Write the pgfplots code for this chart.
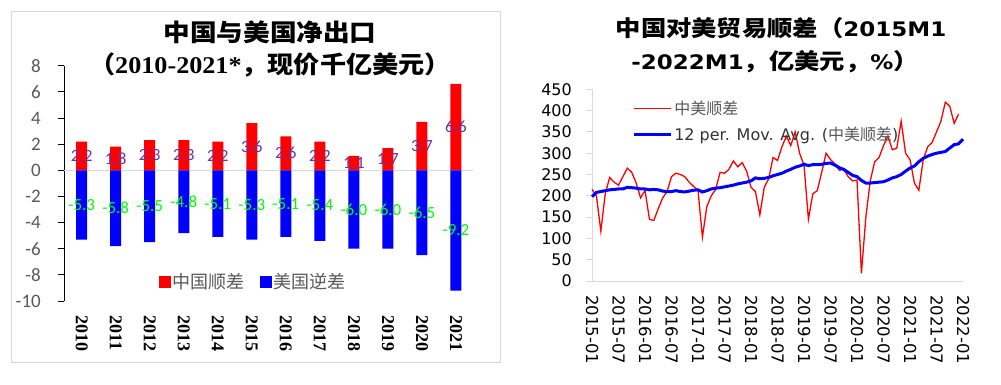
\documentclass[border=0pt]{standalone}
\usepackage{pgfplots}
\pgfplotsset{compat=1.18}
\usepackage{pgfplotstable}
\usepackage{fontspec}
\usepackage{graphicx}
\setmainfont{Carlito}
\newfontfamily\cjk{Noto Sans CJK SC}
\newfontfamily\carlito{Carlito}
\newfontfamily\lser{Liberation Serif}
\newfontfamily\dejavu{DejaVu Sans}
\definecolor{tickgray}{HTML}{595959}
\definecolor{axgray}{HTML}{D9D9D9}
\definecolor{lblpurple}{HTML}{7030A0}
\definecolor{lblgreen}{HTML}{00FF00}

\pgfplotstableread{
x cn us
0 2.2 -5.3
1 1.8 -5.8
2 2.3 -5.5
3 2.3 -4.8
4 2.2 -5.1
5 3.6 -5.3
6 2.6 -5.1
7 2.2 -5.4
8 1.1 -6.0
9 1.7 -6.0
10 3.7 -6.5
11 6.6 -9.2
}\netexp

\pgfplotstableread{
m v
0 215
1 200
2 117
3 205
4 243
5 232
6 225
7 245
8 265
9 255
10 230
11 195
12 213
13 145
14 142
15 170
16 195
17 210
18 245
19 253
20 250
21 245
22 232
23 222
24 213
25 103
26 175
27 200
28 215
29 255
30 253
31 262
32 282
33 268
34 278
35 258
36 220
37 210
38 155
39 220
40 240
41 290
42 283
43 315
44 340
45 318
46 350
47 300
48 272
49 145
50 205
51 212
52 255
53 300
54 285
55 275
56 260
57 262
58 245
59 235
60 237
61 18
62 150
63 235
64 280
65 290
66 318
67 340
68 308
69 312
70 375
71 300
72 285
73 230
74 213
75 285
76 315
77 325
78 350
79 375
80 420
81 410
82 370
83 392
}\surplus

\pgfplotstableread{
m v
0 198
1 208
2 210
3 212
4 214
5 215
6 216
7 216
8 220
9 219
10 218
11 216
12 216
13 214
14 215
15 214
16 211
17 210
18 210
19 212
20 210
21 209
22 211
23 213
24 214
25 209
26 212
27 216
28 218
29 219
30 221
31 223
32 225
33 228
34 230
35 232
36 235
37 242
38 240
39 241
40 243
41 247
42 250
43 253
44 258
45 262
46 267
47 270
48 274
49 271
50 273
51 273
52 274
53 276
54 277
55 272
56 266
57 262
58 255
59 248
60 245
61 236
62 230
63 230
64 231
65 232
66 233
67 237
68 242
69 245
70 250
71 258
72 265
73 270
74 280
75 288
76 293
77 297
78 300
79 302
80 304
81 312
82 320
83 322
84 333
}\movavg

\begin{document}
\begin{tikzpicture}[x=1pt,y=1pt]
\useasboundingbox (0,0) rectangle (1001,385);
\fill[white] (0,0) rectangle (1001,385);
\draw[axgray, line width=1pt] (11,22) rectangle (500,373);

% ---------- left chart ----------
\begin{axis}[at={(64pt,84pt)}, anchor=south west, scale only axis,
  width=409pt, height=235.3pt,
  xmin=-0.52, xmax=11.5, ymin=-10, ymax=8,
  axis y line*=left, axis x line*=bottom,
  x axis line style={draw=none},
  y axis line style={black, line width=0.8pt},
  tick align=outside, major tick length=6pt,
  ytick={-10,-8,-6,-4,-2,0,2,4,6,8},
  yticklabels={-10,-8,-6,-4,-2,0,2,4,6,8},
  ytick style={black, line width=0.8pt},
  yticklabel style={font=\carlito\fontsize{19}{19}\selectfont, text=tickgray, inner sep=0pt, xshift=-17pt},
  xtick={0,1,2,3,4,5,6,7,8,9,10,11},
  xticklabels={2010,2011,2012,2013,2014,2015,2016,2017,2018,2019,2020,2021},
  xtick style={draw=none},
  xticklabel style={font=\lser\bfseries\fontsize{18}{18}\selectfont, rotate=-90, anchor=west, inner sep=0pt, xshift=8pt},
  extra y ticks={0}, extra y tick labels={},
  extra y tick style={grid=major, major grid style={axgray, line width=0.8pt}, tick style={draw=none}},
  clip=false,
  legend style={at={(0.463,0.081)}, anchor=center, draw=none, fill=none,
    font=\cjk\fontsize{18}{18}\selectfont, text=tickgray,
    /tikz/every even column/.append style={column sep=14pt}},
  legend columns=2,
]
\addplot[ybar, bar width=11pt, bar shift=0pt, fill=red, draw=none, forget plot] table[x=x, y=cn] {\netexp};
\addplot[ybar, bar width=11pt, bar shift=0pt, fill=blue, draw=none, forget plot] table[x=x, y=us] {\netexp};
\addplot[draw=none, mark=none, forget plot, point meta=\thisrow{cn},
  nodes near coords={\pgfmathprintnumber[fixed,fixed zerofill,precision=1,assume math mode=true]{\pgfplotspointmeta}},
  nodes near coords align={center},
  every node near coord/.append style={font=\carlito\fontsize{17}{17}\selectfont, text=lblpurple, inner sep=0pt}]
  table[x=x, y expr=\thisrow{cn}/2] {\netexp};
\addplot[draw=none, mark=none, forget plot, point meta=\thisrow{us},
  nodes near coords={\pgfmathprintnumber[fixed,fixed zerofill,precision=1,assume math mode=true]{\pgfplotspointmeta}},
  nodes near coords align={center},
  every node near coord/.append style={font=\carlito\fontsize{17}{17}\selectfont, text=lblgreen, inner sep=0pt}]
  table[x=x, y expr=\thisrow{us}/2] {\netexp};
\addlegendimage{legend image code/.code={\fill[red] (0pt,-5.5pt) rectangle (11pt,5.5pt);}}
\addlegendentry{中国顺差}
\addlegendimage{legend image code/.code={\fill[blue] (0pt,-5.5pt) rectangle (11pt,5.5pt);}}
\addlegendentry{美国逆差}
\end{axis}

\node[font=\cjk\bfseries\fontsize{24}{24}\selectfont, inner sep=0pt] at (270,353) {\scalebox{1.11}[1]{中国与美国净出口}};
\node[font=\cjk\bfseries\fontsize{24}{24}\selectfont, inner sep=0pt] at (270,320) {\scalebox{1.09}[1]{（{\lser\bfseries 2010-2021*}，现价千亿美元）}};

% ---------- right chart ----------
\begin{axis}[at={(592pt,104pt)}, anchor=south west, scale only axis,
  width=371pt, height=191.7pt,
  xmin=0, xmax=84, ymin=0, ymax=450,
  axis lines*=left,
  axis line style={axgray, line width=0.8pt},
  tick align=outside, major tick length=6pt,
  ytick={0,50,100,150,200,250,300,350,400,450},
  yticklabels={0,50,100,150,200,250,300,350,400,450},
  ytick style={axgray, line width=0.8pt},
  yticklabel style={font=\dejavu\fontsize{16}{16}\selectfont, inner sep=0pt, xshift=-14pt},
  xtick={0,6,12,18,24,30,36,42,48,54,60,66,72,78,84},
  xticklabels={2015-01,2015-07,2016-01,2016-07,2017-01,2017-07,2018-01,2018-07,2019-01,2019-07,2020-01,2020-07,2021-01,2021-07,2022-01},
  xtick style={draw=none},
  xticklabel style={font=\dejavu\fontsize{16.5}{16.5}\selectfont, rotate=-90, anchor=west, inner sep=0pt, xshift=8pt},
  legend style={at={(0.1,0.96)}, anchor=north west, draw=none, fill=none,
    font=\dejavu\fontsize{16}{16}\selectfont, text=black!80, row sep=7pt},
  legend cell align=left,
  legend image code/.code={\draw[#1] (0pt,0pt) -- (37pt,0pt);},
  clip=false,
]
\addplot[red, line width=1.3pt, mark=none] table[x=m, y=v] {\surplus};
\addlegendentry{{\cjk\color{tickgray} 中美顺差}}
\addplot[blue, line width=3pt, mark=none] table[x=m, y=v] {\movavg};
\addlegendentry{12 per. Mov. Avg. ({\cjk\color{tickgray}中美顺差})}
\end{axis}

\node[font=\cjk\bfseries\fontsize{22}{22}\selectfont, inner sep=0pt] at (781,357) {\scalebox{1.15}[1]{中国对美贸易顺差（{\dejavu\bfseries\fontsize{20}{20}\selectfont 2015M1}}};
\node[font=\cjk\bfseries\fontsize{22}{22}\selectfont, inner sep=0pt] at (775,323) {\scalebox{1.15}[1]{{\dejavu\bfseries\fontsize{20}{20}\selectfont -2022M1}，亿美元，{\dejavu\bfseries\fontsize{20}{20}\selectfont \%}）}};
\end{tikzpicture}
\end{document}
